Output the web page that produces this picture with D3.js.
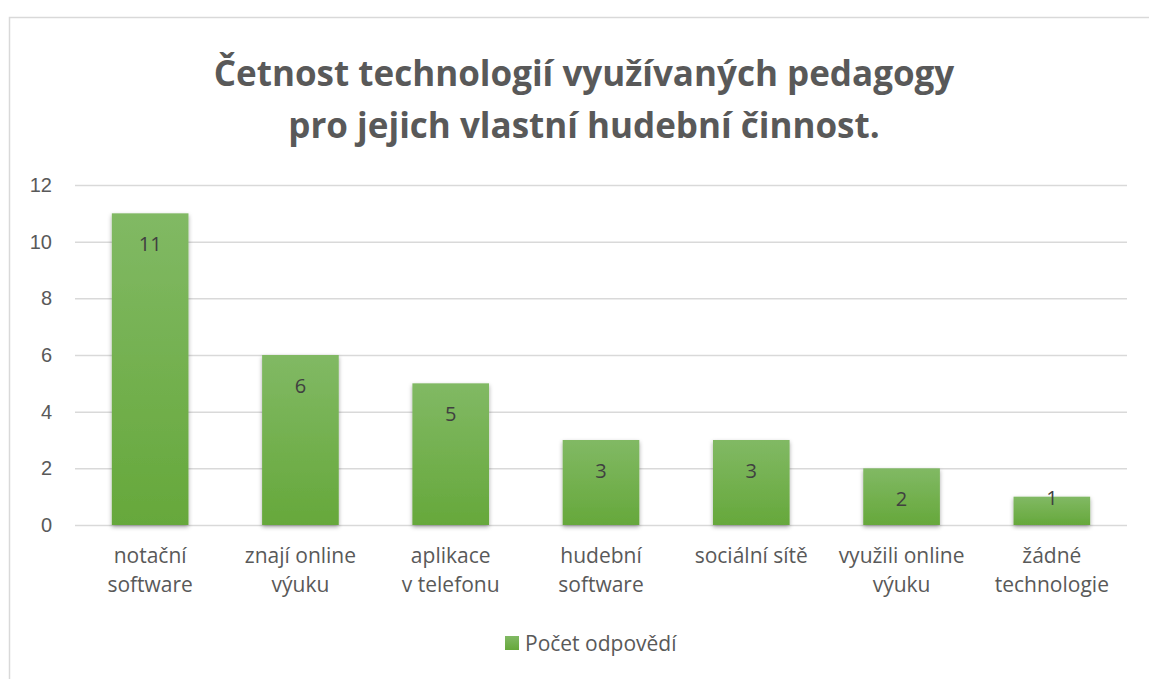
<!DOCTYPE html>
<head>
  <meta charset="utf-8">
  <script src="https://d3js.org/d3.v7.min.js"></script>
  <style>
    body { margin: 0; background: #fff; }
    svg { display: block; font-family: "Open Sans", sans-serif; }
  </style>
</head>

<body>
  <svg width="1149" height="679"></svg>
  <script>
    // data
    var categories = [["notační", "software"], ["znají online", "výuku"], ["aplikace", "v telefonu"],
      ["hudební", "software"], ["sociální sítě"], ["využili online", "výuku"], ["žádné", "technologie"]];
    var values = [11, 6, 5, 3, 3, 2, 1];
    var yTicks = [0, 2, 4, 6, 8, 10, 12];
    var seriesName = "Počet odpovědí";
    var titleLines = ["Četnost technologií využívaných pedagogy", "pro jejich vlastní hudební činnost."];

    // options
    var margin = {top: 185, right: 22, bottom: 154, left: 75};
    var width = 1149, height = 679;

    var svg = d3.select('svg');

    // gradient + shadow
    var defs = svg.append('defs');
    var grad = defs.append('linearGradient').attr('id', 'barGrad')
      .attr('x1', 0).attr('y1', 0).attr('x2', 0).attr('y2', 1);
    grad.append('stop').attr('offset', '0%').attr('stop-color', '#81b964');
    grad.append('stop').attr('offset', '100%').attr('stop-color', '#66a83b');
    var filt = defs.append('filter').attr('id', 'shadow')
      .attr('x', '-20%').attr('y', '-10%').attr('width', '140%').attr('height', '130%');
    filt.append('feDropShadow').attr('dx', 0).attr('dy', 2).attr('stdDeviation', 2)
      .attr('flood-color', '#000').attr('flood-opacity', 0.35);

    // chart frame
    svg.append('path')
      .attr('d', 'M9.5,' + height + 'V17.5H' + width)
      .attr('fill', 'none').attr('stroke', '#d9d9d9').attr('stroke-width', 1.5);

    // title
    svg.append('text')
      .attr('text-anchor', 'middle')
      .attr('fill', '#595959')
      .style('font-size', '35px').style('font-weight', 'bold')
      .selectAll('tspan').data(titleLines).enter().append('tspan')
      .attr('x', 584).attr('y', function(d, i){ return 86 + i * 52; })
      .text(function(d){ return d; });

    // scales
    var xScale = d3.scaleBand()
      .domain(d3.range(categories.length))
      .range([margin.left, width - margin.right])
      .paddingInner(0.49).paddingOuter(0.245);
    var yScale = d3.scaleLinear()
      .domain([0, 12])
      .range([height - margin.bottom, margin.top]);

    // grid
    var yAxis = d3.axisLeft(yScale)
      .tickValues(yTicks)
      .tickSize(-(width - margin.right - margin.left))
      .tickPadding(23)
      .tickFormat(d3.format('d'));
    var gy = svg.append('g')
      .attr('transform', 'translate(' + [margin.left, 0] + ')')
      .call(yAxis);
    gy.select('.domain').remove();
    gy.selectAll('line').attr('stroke', '#d9d9d9').attr('stroke-width', 1.5);
    gy.selectAll('text').attr('fill', '#595959').style('font-size', '20px');

    // bars
    svg.selectAll('rect.bar')
      .data(values)
      .enter().append('rect')
      .attr('class', 'bar')
      .attr('x', function(d, i){ return xScale(i); })
      .attr('y', function(d){ return yScale(d); })
      .attr('width', xScale.bandwidth())
      .attr('height', function(d){ return yScale(0) - yScale(d); })
      .attr('fill', 'url(#barGrad)')
      .attr('filter', 'url(#shadow)');

    // data labels
    svg.selectAll('text.val')
      .data(values)
      .enter().append('text')
      .attr('class', 'val')
      .attr('x', function(d, i){ return xScale(i) + xScale.bandwidth() / 2; })
      .attr('y', function(d){ return yScale(d) + 38; })
      .attr('text-anchor', 'middle')
      .attr('fill', '#404040')
      .style('font-size', '20px')
      .text(function(d){ return d; });
    // label for the small bar sits at its top
    svg.selectAll('text.val').filter(function(d){ return d < 2; })
      .attr('y', function(d){ return yScale(d) + 8; });

    // x axis labels
    var gx = svg.append('g');
    categories.forEach(function(c, i){
      var t = gx.append('text')
        .attr('text-anchor', 'middle')
        .attr('fill', '#595959')
        .style('font-size', '21px');
      c.forEach(function(line, j){
        t.append('tspan')
          .attr('x', xScale(i) + xScale.bandwidth() / 2)
          .attr('y', 563 + j * 29)
          .text(line);
      });
    });

    // legend
    var lg = svg.append('g').attr('transform', 'translate(505,636)');
    lg.append('rect').attr('width', 14).attr('height', 14).attr('fill', 'url(#barGrad)');
    lg.append('text').attr('x', 20).attr('y', 15)
      .attr('fill', '#595959').style('font-size', '21px')
      .text(seriesName);
  </script>
</body>
</html>
